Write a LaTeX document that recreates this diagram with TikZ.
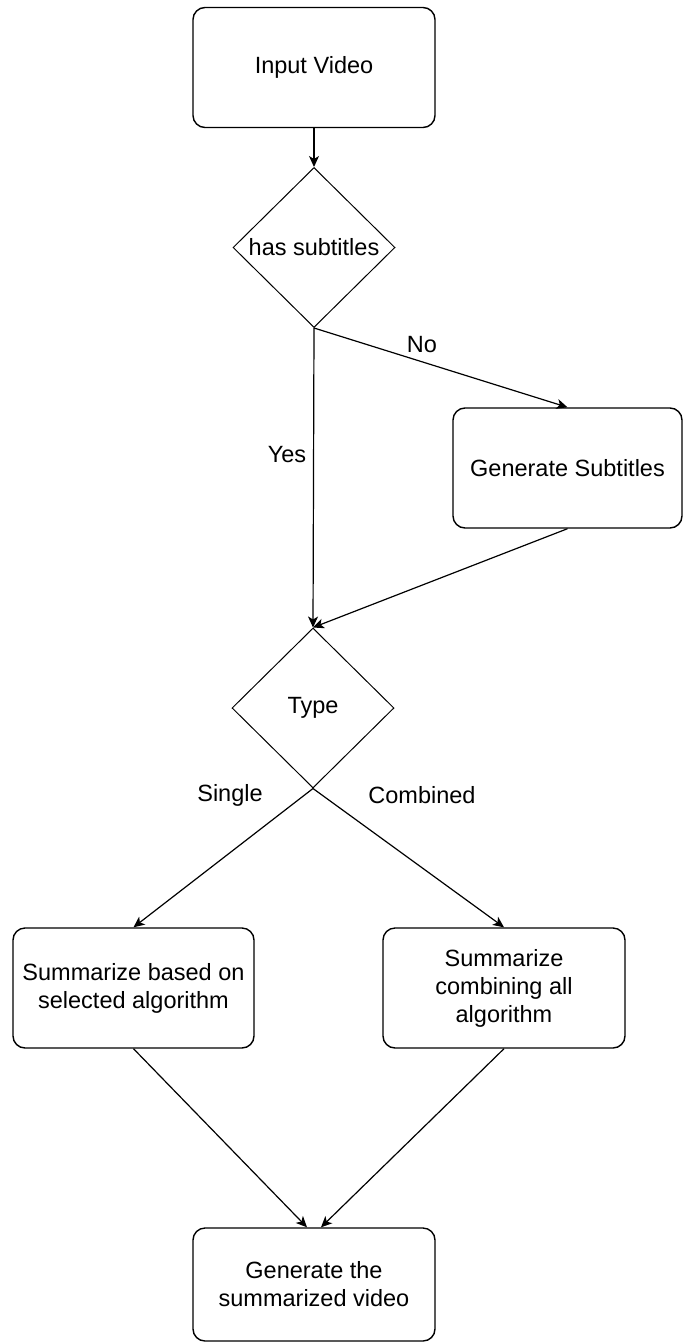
\documentclass[tikz,border=0pt]{standalone}
\usepackage{fontspec}
\setmainfont{Liberation Sans}
\usetikzlibrary{shapes.geometric, arrows.meta}
\begin{document}
\begin{tikzpicture}[x=0.5pt, y=-0.5pt,
  every node/.style={font=\fontsize{11.75}{14}\selectfont, inner sep=0pt},
  stepbox/.style={draw, rounded corners=6pt, line width=0.7pt, minimum width=121pt, minimum height=60pt, align=center},
  choice/.style={draw, diamond, line width=0.5pt, minimum width=81pt, minimum height=80pt},
  flow/.style={-{Stealth[length=5.5pt, width=5pt, inset=1.5pt]}, line width=0.6pt}]
\useasboundingbox (0,0) rectangle (683,1343);
\node[stepbox] (input) at (314,67.5) {Input Video};
\node[choice] (subs) at (314,247.5) {has subtitles};
\node[stepbox, minimum width=114.5pt] (gensubs) at (567.5,468) {Generate Subtitles};
\node[choice] (type) at (313,708) {Type};
\node[stepbox, minimum width=120.5pt] (single) at (133.5,988) {Summarize based on\\selected algorithm};
\node[stepbox] (combined) at (504,988) {Summarize\\combining all\\algorithm};
\node[stepbox, minimum height=56.5pt] (output) at (314,1284.5) {Generate the\\summarized video};
\node (no) at (422,345) {No};
\node (yes) at (287,455) {Yes};
\node (singlelbl) at (230,795) {Single};
\node (combinedlbl) at (422,795) {Combined};
\draw[flow] (input) -- (subs);
\draw[flow] (subs.south) -- (gensubs.north);
\draw[flow] (subs.south) -- (type.north);
\draw[flow] (gensubs.south) -- (type.north);
\draw[flow] (type.south) -- (single.north);
\draw[flow] (type.south) -- (combined.north);
\draw[flow] (single.south) -- ([xshift=-3.5pt]output.north);
\draw[flow] (combined.south) -- ([xshift=3.5pt]output.north);
\end{tikzpicture}
\end{document}
